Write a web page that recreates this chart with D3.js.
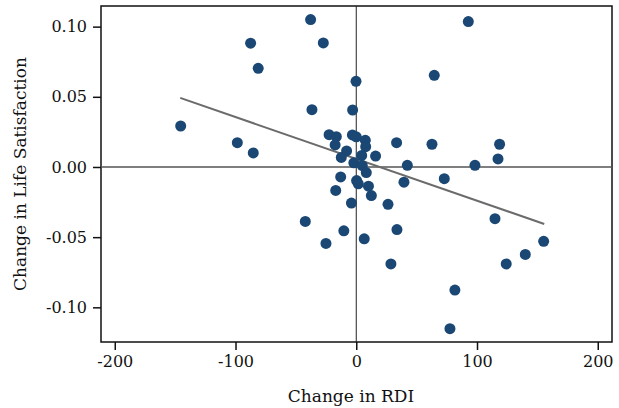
<!DOCTYPE html>
<html lang="en">
<head>
  <meta charset="UTF-8">
  <title>Change in RDI vs Life Satisfaction</title>
  <script src="https://d3js.org/d3.v7.min.js"></script>
  <style>
    body { margin: 0; background: #fff; }
    text { font-family: "DejaVu Serif", "Liberation Serif", serif; fill: #111; }
  </style>
</head>
<body>
  <svg id="chart" width="619" height="408"></svg>

  <script>
    // Change in RDI (x) and change in life satisfaction (y), one entry per point
    const rdiChange = [
      -145.4, -98.5, -85.3, -87.5, -81.2, -37.8, -27.3, -36.7, -3.0, -0.2,
      -22.5, -16.5, -17.5, -3.2, 0.0, 7.5, 7.8, 16.0, 33.4, 62.7,
      118.7, 117.4, 92.8, 64.6, -8.0, -12.4, -2.0, 4.5, 5.0, 42.3,
      98.3, 8.3, 72.9, 39.5, -12.9, 0.3, 1.7, 10.1, -17.0, 12.5,
      -4.0, 26.3, 114.9, -42.2, -10.3, 6.6, 33.7, -25.1, 155.2, 140.0,
      124.2, 28.7, 81.7, 77.6
    ];
    const lsChange = [
      0.0292, 0.0173, 0.0100, 0.0882, 0.0703, 0.1050, 0.0884, 0.0408, 0.0406, 0.0610,
      0.0230, 0.0216, 0.0157, 0.0228, 0.0215, 0.0190, 0.0145, 0.0078, 0.0173, 0.0162,
      0.0162, 0.0057, 0.1036, 0.0653, 0.0114, 0.0068, 0.0030, 0.0082, 0.0010, 0.0012,
      0.0012, -0.0040, -0.0083, -0.0108, -0.0071, -0.0097, -0.0120, -0.0137, -0.0167, -0.0204,
      -0.0257, -0.0266, -0.0368, -0.0388, -0.0455, -0.0512, -0.0446, -0.0545, -0.0530, -0.0623,
      -0.0691, -0.0691, -0.0877, -0.1152
    ];

    // fitted trend line end points
    const fitX = [-145.8, 155.7];
    const fitY = [0.0492, -0.0406];

    const xTicks = [-200, -100, 0, 100, 200];
    const yTicks = [0.10, 0.05, 0.00, -0.05, -0.10];

    const svg = d3.select("#chart");
    const margin = { left: 101, right: 7, top: 6, bottom: 66 };
    const width = 619 - margin.left - margin.right;
    const height = 408 - margin.top - margin.bottom;

    const x = d3.scaleLinear().domain([-211.4, 211.8]).range([0, width]);
    const y = d3.scaleLinear().domain([-0.1247, 0.1147]).range([height, 0]);

    const g = svg.append("g").attr("transform", `translate(${margin.left},${margin.top})`);

    // frame
    g.append("rect")
      .attr("width", width)
      .attr("height", height)
      .attr("fill", "none")
      .attr("stroke", "#111")
      .attr("stroke-width", 1.5);

    // zero lines
    g.append("line")
      .attr("x1", 0).attr("x2", width)
      .attr("y1", y(0)).attr("y2", y(0))
      .attr("stroke", "#555").attr("stroke-width", 1.3);
    g.append("line")
      .attr("x1", x(0)).attr("x2", x(0))
      .attr("y1", 0).attr("y2", height)
      .attr("stroke", "#222").attr("stroke-width", 1);

    // plain hyphen for negatives, like the original
    const hyphen = f => d => f(d).replace("\u2212", "-");

    // axes
    const xAxis = g.append("g")
      .attr("transform", `translate(0,${height})`)
      .call(d3.axisBottom(x).tickValues(xTicks).tickSize(8).tickPadding(6).tickFormat(hyphen(d3.format("d"))));
    const yAxis = g.append("g")
      .call(d3.axisLeft(y).tickValues(yTicks).tickSize(8).tickPadding(6).tickFormat(hyphen(d3.format(".2f"))));

    [xAxis, yAxis].forEach(a => {
      a.select(".domain").remove();
      a.selectAll(".tick line").attr("stroke", "#111").attr("stroke-width", 1.5);
      a.selectAll(".tick text").style("font-size", "16px").attr("fill", "#111");
    });

    // trend line
    g.append("line")
      .attr("x1", x(fitX[0])).attr("y1", y(fitY[0]))
      .attr("x2", x(fitX[1])).attr("y2", y(fitY[1]))
      .attr("stroke", "#6b6b6b").attr("stroke-width", 2);

    // points
    g.selectAll("circle.pt")
      .data(d3.range(rdiChange.length))
      .enter()
      .append("circle")
      .attr("class", "pt")
      .attr("cx", i => x(rdiChange[i]))
      .attr("cy", i => y(lsChange[i]))
      .attr("r", 5.5)
      .attr("fill", "#1a4774");

    // axis titles
    svg.append("text")
      .attr("x", 351)
      .attr("y", 402)
      .attr("text-anchor", "middle")
      .style("font-size", "17px")
      .text("Change in RDI");

    svg.append("text")
      .attr("transform", `translate(26,${margin.top + height / 2}) rotate(-90)`)
      .attr("text-anchor", "middle")
      .style("font-size", "17px")
      .text("Change in Life Satisfaction");
  </script>
</body>
</html>
